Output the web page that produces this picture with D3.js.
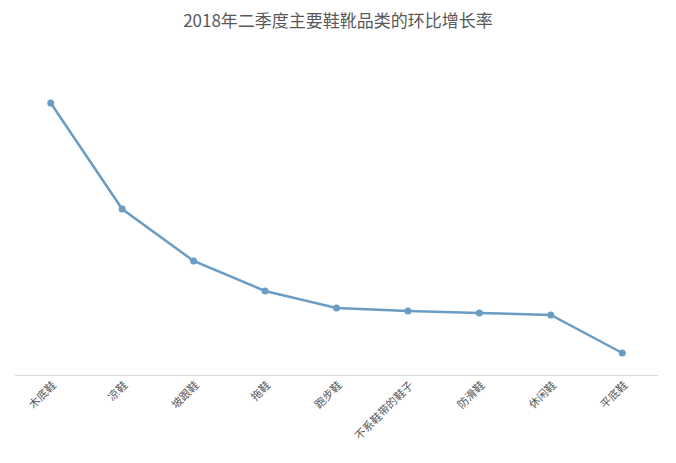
<!DOCTYPE html>
<html><head><meta charset="utf-8">
<script src="https://cdn.jsdelivr.net/npm/d3@7"></script>
<style>body{margin:0;background:#fff}</style>
</head><body>
<script>
const categories = ["木底鞋","凉鞋","坡跟鞋","拖鞋","跑步鞋","不系鞋带的鞋子","防滑鞋","休闲鞋","平底鞋"];
const values = [272,166,114,84,67,64,62,60,22];
const title = "2018年二季度主要鞋靴品类的环比增长率";

const W=676,H=463;
const svg=d3.select("body").append("svg").attr("width",W).attr("height",H);
svg.append("rect").attr("width",W).attr("height",H).attr("fill","#fff");
const x=d3.scaleBand().domain(categories).range([15,658]);
const y=d3.scaleLinear().domain([0,300]).range([375,75]);
svg.append("text").attr("x",338).attr("y",27).attr("text-anchor","middle")
 .attr("font-family","Noto Sans CJK SC").attr("font-size",17).attr("fill","#595959").text(title);
svg.append("line").attr("x1",15).attr("x2",658).attr("y1",375.5).attr("y2",375.5).attr("stroke","#d9d9d9");
const cx=d=>x(d)+x.bandwidth()/2;
svg.append("path").datum(categories.map((c,i)=>[cx(c),y(values[i])]))
 .attr("d",d3.line()).attr("fill","none").attr("stroke","#6b9dc4").attr("stroke-width",2.5);
svg.selectAll("circle").data(categories).join("circle").attr("cx",cx).attr("cy",(d,i)=>y(values[i]))
 .attr("r",3.5).attr("fill","#6b9dc4");
svg.selectAll(".lab").data(categories).join("text")
 .attr("transform",d=>`translate(${cx(d)+6},${386}) rotate(-45)`).attr("text-anchor","end")
 .attr("font-family","Noto Sans CJK SC").attr("font-size",11).attr("fill","#595959").text(d=>d);
</script>
</body></html>
